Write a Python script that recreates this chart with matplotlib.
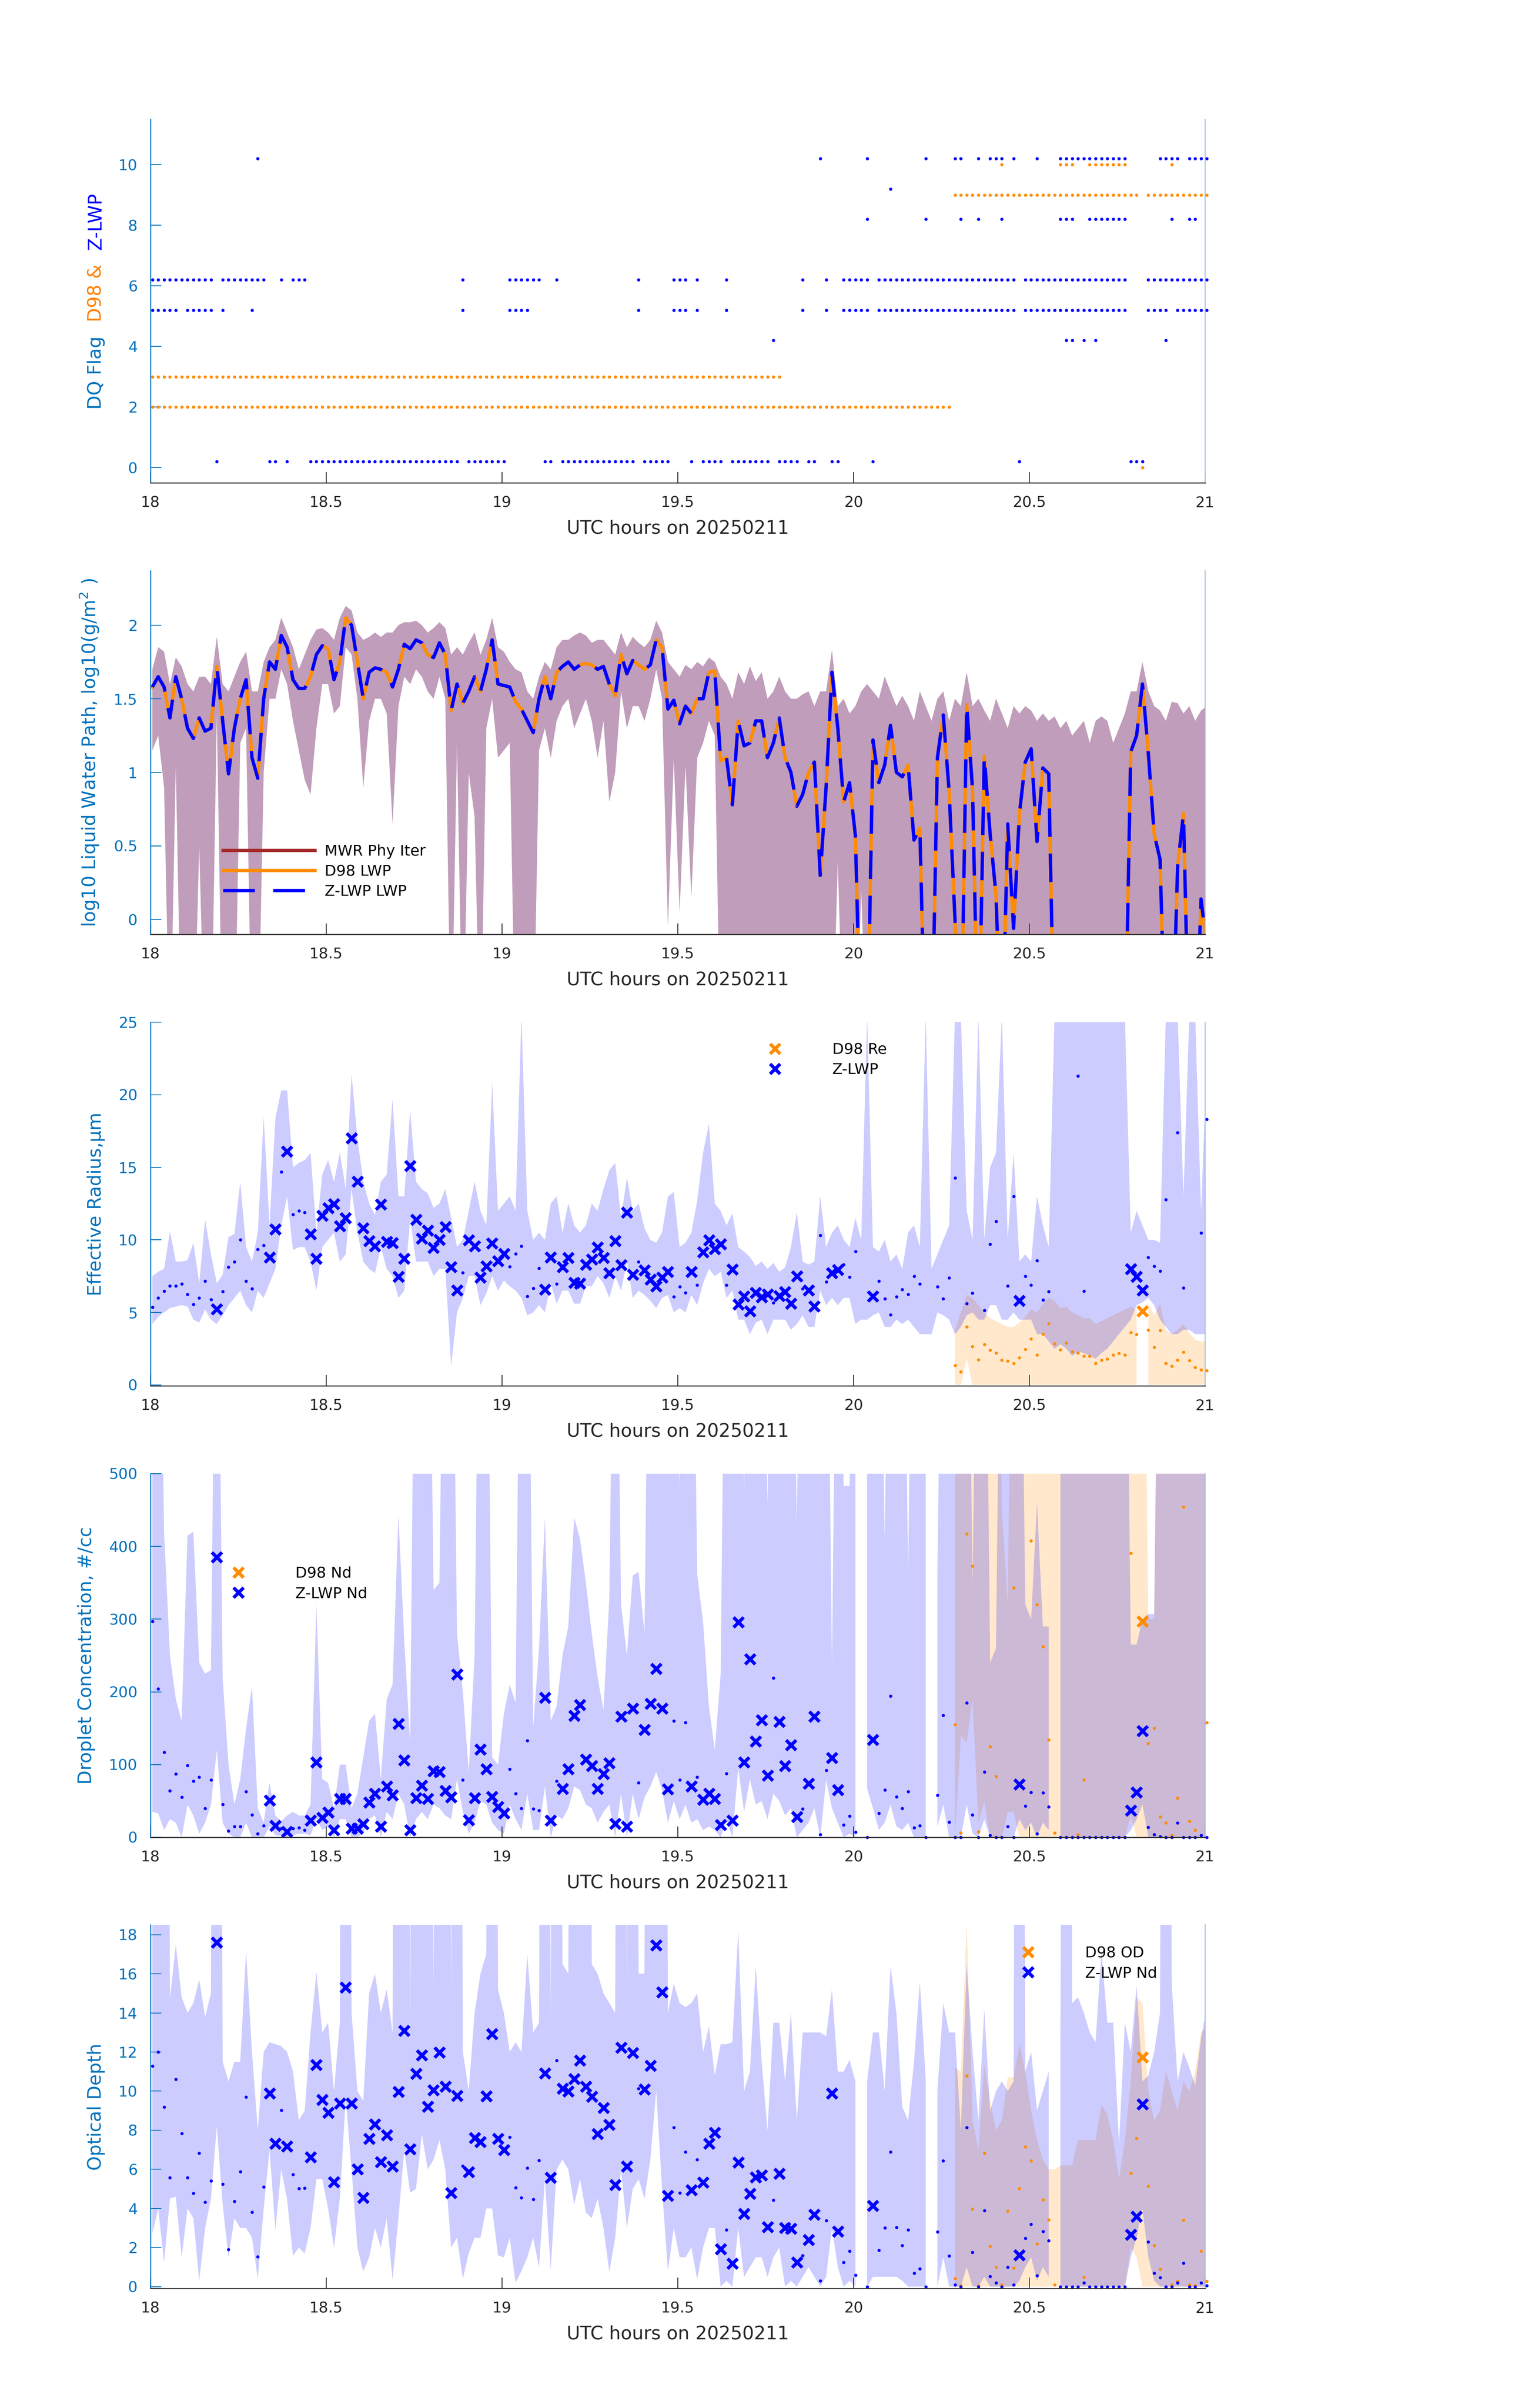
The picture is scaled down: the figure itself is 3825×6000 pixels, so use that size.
import numpy as np
import matplotlib
matplotlib.use("Agg")
import matplotlib.pyplot as plt
from matplotlib.lines import Line2D
from matplotlib.transforms import IdentityTransform

nan = np.nan

# ---------------- time axis: one sample per minute ----------------
minute_index = np.arange(181)
t = 18.0 + (minute_index + 0.33) / 60.0
D98_START = 137                      # D98 retrievals start at this minute
t_d98 = t[D98_START:]

xtick_vals = [18, 18.5, 19, 19.5, 20, 20.5, 21]
xtick_labels = ["18", "18.5", "19", "19.5", "20", "20.5", "21"]

# ---------------- panel 1 : data-quality flags (minute indices) ----------------
d98_flag0 = [169]
d98_flag2 = list(range(0, 137))
d98_flag3 = list(range(0, 108))
d98_flag9 = list(range(137, 169)) + list(range(170, 181))
d98_flag10 = [145, 155, 156, 157] + list(range(160, 167)) + [174]

z_flag0 = ([11, 20, 21, 23] + list(range(27, 53)) + list(range(54, 61)) + [67, 68]
           + list(range(70, 83)) + list(range(84, 89)) + [92] + list(range(94, 98))
           + list(range(99, 106)) + list(range(107, 111)) + [112, 113, 116, 117, 123, 148, 167, 168, 169])
z_flag4 = [106, 156, 157, 159, 161, 173]
z_flag5 = (list(range(0, 5)) + list(range(6, 11)) + [12, 17, 53] + list(range(61, 65))
           + [83, 89, 90, 91, 93, 98, 111, 115] + list(range(118, 123)) + list(range(124, 148))
           + list(range(149, 167)) + list(range(170, 174)) + list(range(175, 181)))
z_flag6 = (list(range(0, 11)) + list(range(12, 20)) + [22, 24, 25, 26, 53] + list(range(61, 67))
           + [69, 83, 89, 90, 91, 93, 98, 111, 115] + list(range(118, 123)) + list(range(124, 148))
           + list(range(149, 167)) + list(range(170, 181)))
z_flag8 = [122, 132, 138, 141, 145, 155, 156, 157] + list(range(160, 167)) + [174, 177, 178]
z_flag9 = [126]
z_flag10 = ([18, 114, 122, 132, 137, 138, 141, 143, 144, 145, 147, 151] + list(range(155, 167))
            + list(range(172, 176)) + list(range(177, 181)))

# ---------------- panel 2 : log10 LWP ----------------
zlwp_lwp_log = [
    1.58, 1.65, 1.58, 1.37, 1.65, 1.50, 1.30, 1.23, 1.37, 1.28,
    1.30, 1.72, 1.35, 0.99, 1.30, 1.50, 1.63, 1.10, 0.96, 1.50,
    1.75, 1.70, 1.93, 1.85, 1.63, 1.57, 1.57, 1.65, 1.80, 1.86,
    1.84, 1.63, 1.75, 2.05, 2.00, 1.75, 1.50, 1.68, 1.71, 1.70,
    1.68, 1.58, 1.70, 1.87, 1.84, 1.90, 1.88, 1.80, 1.78, 1.88,
    1.80, 1.42, 1.60, 1.47, 1.55, 1.65, 1.55, 1.70, 1.90, 1.60,
    1.59, 1.58, 1.48, 1.43, 1.35, 1.27, 1.50, 1.65, 1.50, 1.68,
    1.72, 1.75, 1.70, 1.73, 1.74, 1.73, 1.70, 1.72, 1.60, 1.52,
    1.80, 1.67, 1.76, 1.73, 1.70, 1.73, 1.90, 1.85, 1.43, 1.49,
    1.33, 1.45, 1.40, 1.50, 1.50, 1.68, 1.69, 1.08, 1.10, 0.78,
    1.35, 1.18, 1.20, 1.35, 1.35, 1.10, 1.20, 1.37, 1.10, 1.00,
    0.77, 0.85, 1.00, 1.07, 0.30, 0.90, 1.68, 1.30, 0.80, 0.93,
    0.57, -1.0, -1.0, 1.22, 0.93, 1.05, 1.32, 1.00, 0.97, 1.05,
    0.54, 0.62, -1.0, -1.0, 1.10, 1.39, 0.87, 0.00, -1.0, 1.46,
    0.88, -1.0, 1.11, 0.58, 0.17, -1.0, 0.65, -0.06, 0.72, 1.07,
    1.16, 0.53, 1.03, 0.99, -1.0, nan, nan, nan, nan, nan,
    nan, nan, nan, nan, nan, nan, -1.0, 1.14, 1.25, 1.60,
    1.13, 0.58, 0.41, -1.0, -1.0, 0.36, 0.72, -1.0, -1.0, 0.14,
    -0.2]
d98_lwp_log = list(zlwp_lwp_log)          # D98 LWP coincides with Z-LWP LWP
mwr_lwp_log = [nan] * 181                 # MWR Phy Iter: nothing visible

lwp_hi = [
    1.70, 1.85, 1.82, 1.60, 1.78, 1.72, 1.60, 1.55, 1.65, 1.65,
    1.60, 1.92, 1.60, 1.55, 1.65, 1.75, 1.82, 1.55, 1.55, 1.75,
    1.85, 1.90, 2.05, 1.95, 1.85, 1.70, 1.80, 1.90, 1.97, 1.98,
    1.95, 1.90, 2.05, 2.13, 2.10, 1.95, 1.90, 1.92, 1.95, 1.92,
    1.95, 1.95, 2.00, 2.02, 2.02, 2.03, 2.00, 1.95, 1.98, 2.02,
    1.98, 1.80, 1.85, 1.80, 1.88, 1.95, 1.80, 1.90, 2.05, 1.85,
    1.82, 1.75, 1.70, 1.68, 1.55, 1.50, 1.65, 1.75, 1.70, 1.85,
    1.90, 1.90, 1.93, 1.95, 1.93, 1.88, 1.90, 1.90, 1.85, 1.80,
    1.95, 1.85, 1.92, 1.88, 1.85, 1.90, 2.03, 1.95, 1.75, 1.70,
    1.65, 1.73, 1.70, 1.75, 1.72, 1.78, 1.75, 1.65, 1.60, 1.50,
    1.68, 1.60, 1.72, 1.62, 1.68, 1.50, 1.55, 1.65, 1.55, 1.50,
    1.50, 1.53, 1.55, 1.45, 1.55, 1.55, 1.83, 1.45, 1.50, 1.40,
    1.45, 1.55, 1.60, 1.55, 1.50, 1.65, 1.55, 1.45, 1.52, 1.45,
    1.35, 1.55, 1.45, 1.35, 1.50, 1.55, 1.35, 1.50, 1.45, 1.68,
    1.45, 1.50, 1.42, 1.35, 1.50, 1.40, 1.30, 1.45, 1.40, 1.45,
    1.42, 1.35, 1.40, 1.35, 1.38, 1.30, 1.35, 1.25, 1.30, 1.35,
    1.20, 1.35, 1.38, 1.35, 1.20, 1.30, 1.40, 1.55, 1.55, 1.75,
    1.55, 1.45, 1.42, 1.35, 1.48, 1.47, 1.40, 1.45, 1.35, 1.42,
    1.45]
lwp_lo = [
    1.15, 1.25, 0.90, -1.0, 1.05, -1.0, -1.0, -1.0, 0.50, -1.0,
    -1.0, 1.40, -1.0, -1.0, -1.0, 1.20, 1.30, -1.0, -1.0, 1.00,
    1.50, 1.50, 1.70, 1.60, 1.35, 1.15, 0.95, 0.85, 1.30, 1.60,
    1.60, 1.40, 1.45, 1.85, 1.80, 1.50, 0.90, 1.35, 1.50, 1.50,
    1.40, 0.65, 1.45, 1.65, 1.60, 1.70, 1.65, 1.55, 1.50, 1.65,
    1.50, -1.0, 1.20, -1.0, 1.00, 0.70, -1.0, 1.30, 1.50, 1.10,
    1.15, 1.20, -1.0, -1.0, -1.0, -1.0, 1.15, 1.30, 1.10, 1.35,
    1.45, 1.50, 1.30, 1.40, 1.50, 1.35, 1.10, 1.35, 0.80, 1.00,
    1.55, 1.30, 1.45, 1.45, 1.35, 1.50, 1.70, 1.50, -0.05, 1.10,
    0.05, 1.05, 0.15, 1.10, 1.20, 1.35, 1.25, -1.0, -1.0, -1.0,
    -1.0, -1.0, -1.0, -1.0, -1.0, -1.0, -1.0, -1.0, -1.0, -1.0,
    -1.0, -1.0, -1.0, -1.0, -1.0, -1.0, -1.0, 0.40, -1.0, -1.0,
    -1.0, 0.20, -1.0, -1.0, -1.0, -1.0, -1.0, -1.0, -1.0, -1.0,
    -1.0, -1.0, -1.0, -1.0, -1.0, -1.0, -1.0, -1.0, -1.0, -1.0,
    -1.0, -1.0, -1.0, -1.0, -1.0, -1.0, -1.0, -1.0, -1.0, -1.0,
    -1.0, -1.0, -1.0, -1.0, -1.0, -1.0, -1.0, -1.0, -1.0, -1.0,
    -1.0, -1.0, -1.0, -1.0, -1.0, -1.0, -1.0, -1.0, -1.0, -1.0,
    -1.0, -1.0, -1.0, -1.0, -1.0, -1.0, -1.0, -1.0, -1.0, -1.0,
    -1.0]

# ---------------- panel 3 : effective radius ----------------
zlwp_re = [
    5.37, 6.0, 6.47, 6.82, 6.82, 6.96, 6.24, 5.56, 6.0, 7.17,
    5.9, 5.23, 6.43, 8.14, 8.5, 10.0, 7.17, 6.63, 9.34, 9.63,
    8.8, 10.74, 14.67, 16.1, 11.76, 12.0, 11.88, 10.4, 8.72, 11.67,
    12.2, 12.46, 10.95, 11.5, 17.0, 14.03, 10.8, 9.92, 9.57, 12.44,
    9.86, 9.8, 7.46, 8.7, 15.1, 11.4, 10.1, 10.64, 9.46, 10.0,
    10.9, 8.14, 6.53, 7.75, 9.98, 9.57, 7.4, 8.18, 9.77, 8.53,
    9.05, 8.16, 9.05, 9.57, 6.1, 6.67, 8.04, 6.57, 8.8, 6.96,
    8.14, 8.76, 7.05, 7.0, 8.3, 8.66, 9.48, 8.76, 7.7, 9.92,
    8.27, 11.9, 7.6, 8.5, 7.9, 7.27, 6.8, 7.4, 7.8, 6.08,
    6.76, 6.37, 7.8, 6.88, 9.15, 9.98, 9.38, 9.7, 6.88, 7.96,
    5.56, 6.1, 5.08, 6.37, 6.05, 6.24, 5.66, 6.14, 6.4, 5.6,
    7.5, 6.63, 6.53, 5.43, 10.3, 7.1, 7.7, 7.93, 8.3, 7.44,
    9.2, nan, nan, 6.1, 7.17, 5.95, 4.84, 6.08, 6.57, 6.24,
    7.5, 6.96, nan, nan, 6.76, 5.95, 7.38, 14.28, nan, 5.6,
    6.33, nan, 5.14, 9.7, 11.28, nan, 6.82, 13.0, 5.81, 7.5,
    6.88, 8.57, 5.85, 6.43, nan, nan, nan, nan, 21.3, 6.47,
    nan, nan, nan, nan, nan, nan, nan, 7.98, 7.46, 6.53,
    8.8, 8.18, 7.85, 12.77, nan, 17.4, 6.69, nan, nan, 10.47,
    18.3]
zlwp_re_hi = [
    7.5, 7.8, 8.0, 10.6, 8.5, 8.5, 8.6, 9.8, 7.0, 11.4,
    9.0, 7.0, 7.6, 10.2, 10.4, 14.0, 9.5, 8.5, 10.5, 18.5,
    11.0, 18.4, 20.3, 20.3, 15.0, 15.3, 15.5, 16.0, 10.5, 14.5,
    15.5, 14.0, 16.0, 13.5, 21.4, 17.0, 14.0, 12.5, 11.7, 14.0,
    14.5, 19.7, 13.0, 13.0, 18.9, 14.0, 13.5, 13.2, 12.2, 12.5,
    13.5, 11.5, 9.5, 10.0, 12.0, 14.0, 12.0, 11.0, 20.8, 12.0,
    12.5, 13.0, 12.0, 25.5, 12.0, 10.0, 10.5, 10.0, 12.5, 13.0,
    10.5, 12.5, 11.0, 10.5, 11.0, 12.5, 12.0, 13.5, 14.8, 15.3,
    11.5, 14.3, 12.0, 12.5, 10.8, 10.0, 9.8, 10.5, 13.0, 13.3,
    9.5, 9.8, 10.5, 12.7, 16.0, 18.0, 12.5, 12.0, 11.0, 11.8,
    9.5, 9.2, 8.8, 8.2, 8.5, 8.0, 8.4, 7.8, 8.1, 9.5,
    11.9, 8.5, 8.3, 8.5, 13.0, 9.5, 10.5, 11.0, 10.0, 9.5,
    11.5, 10.0, 25.5, 9.5, 9.2, 10.0, 8.5, 9.0, 8.0, 10.5,
    11.0, 9.5, 25.5, 8.0, 9.0, 10.0, 11.0, 25.5, 25.5, 12.0,
    10.0, 25.5, 10.0, 15.0, 16.0, 25.5, 10.0, 16.0, 8.5, 9.0,
    8.5, 13.0, 11.0, 9.5, 25.5, 25.5, 25.5, 25.5, 25.5, 25.5,
    25.5, 25.5, 25.5, 25.5, 25.5, 25.5, 25.5, 10.5, 12.0, 11.0,
    10.0, 10.0, 9.8, 25.5, 25.5, 25.5, 13.0, 25.5, 25.5, 12.0,
    22.5]
zlwp_re_lo = [
    4.2, 4.7, 5.0, 5.3, 5.4, 5.5, 5.4, 4.5, 4.3, 5.2,
    4.5, 4.2, 4.8, 5.5, 6.0, 6.5, 5.5, 5.0, 6.5, 6.0,
    7.0, 8.0, 11.0, 13.0, 9.3, 9.5, 9.5, 8.5, 6.5, 9.5,
    10.0, 10.5, 8.5, 9.0, 13.5, 10.5, 8.5, 8.0, 7.7, 9.5,
    8.0, 7.5, 6.0, 6.5, 11.5, 8.5, 8.5, 8.5, 7.5, 8.0,
    8.0, 1.3, 5.0, 6.0, 7.5, 7.5, 5.5, 6.3, 7.5, 6.5,
    7.2, 6.8, 6.5, 6.0, 4.8, 5.0, 5.5, 5.0, 7.0, 5.6,
    6.5, 6.5, 5.6, 5.6, 6.8, 6.8, 7.5, 7.0, 6.0, 7.5,
    6.5, 8.5, 6.0, 6.5, 6.2, 5.8, 5.3, 6.0, 6.2, 5.0,
    5.3, 5.0, 6.2, 5.5, 7.0, 8.0, 7.5, 7.8, 6.0, 6.5,
    4.5, 4.5, 3.5, 4.3, 4.5, 3.5, 4.5, 4.5, 4.5, 3.8,
    4.2, 4.8, 4.0, 4.0, 6.5, 5.5, 6.0, 5.5, 6.0, 6.0,
    4.2, 4.5, 4.5, 4.8, 5.0, 4.0, 4.0, 4.5, 4.2, 4.5,
    4.0, 3.5, 3.5, 3.5, 5.0, 4.8, 4.5, 3.5, 4.0, 4.8,
    5.0, 4.5, 4.5, 5.5, 5.5, 4.5, 4.5, 5.0, 4.5, 4.5,
    4.5, 3.5, 3.5, 3.0, 2.5, 2.8, 2.5, 2.0, 2.3, 2.2,
    2.0, 1.8, 2.2, 2.5, 3.0, 3.5, 4.0, 4.5, 5.5, 5.7,
    6.0, 5.5, 4.5, 4.0, 3.5, 3.5, 3.8, 3.8, 3.5, 3.5,
    3.5]
d98_re = [
    1.34, 0.91, 4.0, 2.65, 1.74, 2.8, 2.4, 2.2, 1.7, 1.65,
    1.5, 1.88, 2.46, 3.18, 2.07, 3.5, 4.24, 2.85, 2.42, 2.89,
    2.3, 2.2, 2.0, 2.0, 1.5, 1.72, 1.8, 2.07, 2.17, 2.07,
    3.62, 3.47, 5.08, 3.78, 2.6, 3.76, 1.49, 1.3, 1.72, 2.27,
    1.69, 1.2, 1.05, 1.0]
d98_re_hi = [
    3.8, 5.0, 6.2, 6.0, 5.5, 5.0, 4.6, 4.4, 4.2, 4.0,
    4.0, 4.3, 4.7, 5.2, 5.0, 5.6, 6.0, 5.8, 5.3, 5.4,
    5.0, 4.8, 4.6, 4.6, 4.2, 4.4, 4.6, 4.8, 5.0, 5.2,
    5.4, 5.2, nan, 5.6, 4.8, 5.6, 3.8, 3.5, 3.8, 4.2,
    3.6, 3.1, 3.0, 3.0]
d98_re_lo = [
    0.0, 0.0, 1.85, 0.0, 0.0, 0.0, 0.0, 0.0, 0.0, 0.0,
    0.0, 0.0, 0.0, 0.0, 0.0, 0.0, 0.0, 0.0, 0.0, 0.0,
    0.0, 0.0, 0.0, 0.0, 0.0, 0.0, 0.0, 0.0, 0.0, 0.0,
    0.0, 0.0, nan, 0.0, 0.0, 0.0, 0.0, 0.0, 0.0, 0.0,
    0.0, 0.0, 0.0, 0.0]

# ---------------- panel 4 : droplet concentration ----------------
zlwp_nd = [
    297, 204, 117, 64, 87, 55, 99, 77, 83, 40,
    79, 385, 45, 9, 15, 15, 63, 31, 5, 16,
    51, 16, 12, 8, 12, 13, 10, 23, 103, 27,
    34, 10, 53, 53, 12, 12, 18, 48, 60, 15,
    70, 58, 156, 106, 10, 54, 71, 53, 91, 90,
    64, 55, 224, 79, 24, 54, 121, 94, 56, 42,
    33, 94, 60, 40, 133, 39, 37, 192, 23, 77,
    67, 94, 167, 182, 107, 98, 67, 87, 102, 19,
    166, 15, 177, 75, 148, 184, 232, 177, 66, 160,
    79, 158, 70, 83, 52, 60, 53, 17, 88, 23,
    296, 103, 245, 132, 161, 85, 219, 159, 98, 127,
    28, 39, 74, 166, 4, 92, 109, 65, 17, 29,
    7, nan, 0, 134, 33, 65, 194, 56, 40, 63,
    13, 16, 0, nan, 58, 168, 21, 0, 0, 185,
    31, 0, 90, 3, 0, 0, 15, 0, 73, 43,
    62, 5, 61, 42, nan, 0, 0, 0, 0, 0,
    0, 0, 0, 0, 0, 0, 0, 37, 62, 146,
    14, 4, 1, 0, 0, 20, 0, 0, 0, 3,
    0]
zlwp_nd_hi = [
    999, 999, 420, 250, 190, 160, 415, 420, 240, 225,
    230, 999, 218, 100, 45, 80, 150, 208, 40, 20,
    75, 30, 22, 30, 35, 30, 30, 45, 320, 80,
    75, 40, 100, 100, 40, 60, 110, 160, 170, 80,
    190, 210, 443, 270, 130, 999, 999, 999, 340, 350,
    999, 999, 280, 200, 90, 250, 999, 999, 110, 100,
    170, 210, 185, 999, 999, 150, 260, 440, 160, 180,
    250, 290, 440, 410, 350, 280, 220, 175, 330, 999,
    320, 250, 360, 365, 280, 999, 999, 999, 999, 999,
    483, 999, 999, 361, 296, 180, 120, 224, 999, 999,
    999, 478, 999, 999, 999, 458, 999, 999, 999, 999,
    430, 999, 999, 999, 999, 999, 236, 999, 483, 483,
    999, nan, 999, 999, 999, 411, 999, 999, 999, 364,
    999, 999, 999, nan, 363, 999, 999, 999, 999, 999,
    348, 999, 999, 240, 260, 999, 999, 999, 999, 320,
    300, 460, 290, 290, nan, 999, 999, 999, 999, 999,
    999, 999, 999, 999, 999, 999, 999, 265, 265, 300,
    307, 307, 999, 999, 999, 999, 999, 999, 999, 999,
    999]
zlwp_nd_lo = [
    35, 33, 10, 25, 20, 0, 45, 30, 5, 20,
    45, 120, 20, 5, 0, 0, 20, 0, 0, 0,
    15, 3, 2, 0, 3, 5, 5, 3, 25, 10,
    15, 0, 25, 25, 0, 0, 5, 25, 30, 0,
    35, 25, 60, 45, 0, 25, 35, 25, 45, 40,
    30, 25, 80, 35, 5, 20, 50, 45, 20, 10,
    5, 45, 25, 10, 60, 10, 10, 70, 0, 30,
    25, 40, 70, 65, 45, 40, 20, 35, 45, 0,
    60, 0, 60, 25, 55, 70, 90, 65, 20, 50,
    25, 45, 20, 25, 10, 15, 10, 0, 25, 0,
    95, 35, 80, 45, 50, 25, 60, 50, 30, 40,
    0, 10, 20, 40, 0, 79, 40, 20, 0, 5,
    0, nan, 67, 40, 10, 20, 45, 15, 10, 20,
    0, 0, 0, nan, 15, 45, 0, 0, 0, 45,
    5, 0, 25, 0, 0, 0, 0, 0, 25, 10,
    20, 0, 20, 10, nan, 0, 0, 0, 0, 0,
    0, 0, 0, 0, 0, 0, 0, 10, 25, 45,
    0, 0, 0, 0, 0, 0, 0, 0, 0, 0,
    0]
d98_nd = [
    155, 6, 417, 373, 8, nan, 125, 84, nan, nan,
    343, nan, nan, 408, 320, 262, 134, 6, nan, nan,
    nan, 4, 79, nan, nan, nan, nan, nan, nan, nan,
    391, nan, 297, 129, 150, 28, 20, 3, 54, 454,
    22, 10, nan, 158]
d98_nd_hi = [
    999, 999, 999, 999, 999, 999, 999, 999, 450, 320,
    999, 999, 999, 999, 999, 999, 999, 999, 999, 999,
    999, 999, 999, 999, 999, 999, 999, 999, 999, 999,
    999, 999, 999, 300, 300, 999, 999, 999, 999, 999,
    999, 999, 999, 999]
d98_nd_lo = [
    0, 140, 130, 190, 20, 50, 0, 0, 0, 35,
    35, 0, 0, 0, 0, 0, 0, 0, 0, 0,
    0, 0, 0, 0, 0, 0, 0, 0, 0, 0,
    30, 0, 0, 0, 0, 0, 0, 0, 0, 0,
    0, 0, 0, 0]

# ---------------- panel 5 : optical depth ----------------
zlwp_od = [
    11.28, 12.0, 9.19, 5.57, 10.6, 7.83, 5.57, 4.78, 6.82, 4.33,
    5.42, 17.6, 5.25, 1.9, 4.37, 5.88, 9.7, 3.8, 1.53, 5.1,
    9.88, 7.32, 9.02, 7.18, 5.74, 5.02, 5.05, 6.63, 11.35, 9.55,
    8.9, 5.35, 9.37, 15.3, 9.37, 6.0, 4.55, 7.57, 8.3, 6.37,
    7.75, 6.14, 9.96, 13.08, 7.03, 10.9, 11.84, 9.2, 10.06, 11.99,
    10.24, 4.8, 9.77, 6.17, 5.86, 7.6, 7.4, 9.74, 12.93, 7.57,
    7.0, 7.64, 5.06, 4.55, 6.07, 4.47, 6.46, 10.92, 5.57, 11.57,
    10.13, 9.99, 10.63, 11.57, 10.23, 9.73, 7.81, 9.15, 8.29, 5.21,
    12.22, 6.14, 11.96, 10.13, 10.1, 11.3, 17.47, 15.06, 4.66, 8.14,
    4.8, 6.89, 4.93, 6.49, 5.33, 7.32, 7.87, 1.93, 2.9, 1.18,
    6.35, 3.73, 4.76, 5.6, 5.7, 3.05, 4.42, 5.77, 3.0, 2.96,
    1.25, 1.6, 2.4, 3.68, 0.3, 3.37, 9.88, 2.83, 1.25, 1.81,
    0.59, nan, 0.0, 4.13, 1.85, 3.0, 6.89, 3.03, 2.1, 2.9,
    0.68, 0.92, 0.0, nan, 2.8, 6.43, 1.57, 0.1, 0.0, 8.14,
    1.76, 0.0, 3.9, 0.53, 0.2, 0.0, 1.0, 0.1, 1.61, 2.47,
    3.19, 0.56, 2.82, 2.36, nan, 0.0, 0.0, 0.0, 0.0, 0.2,
    0.0, 0.0, 0.0, 0.0, 0.0, 0.0, 0.0, 2.65, 3.58, 9.34,
    2.29, 0.68, 0.46, 0.0, 0.0, 0.2, 1.2, 0.0, 0.0, 0.2,
    0.05]
zlwp_od_hi = [
    99, 99, 99, 14.7, 17.5, 14.8, 14.0, 14.5, 15.7, 13.8,
    15.0, 99, 11.5, 10.5, 11.5, 11.5, 17.2, 12.0, 8.0, 12.0,
    12.5, 12.4, 12.3, 12.0, 11.0, 8.5, 9.0, 13.0, 16.1, 13.0,
    13.5, 10.0, 13.5, 99, 14.0, 10.0, 9.5, 15.0, 16.0, 14.0,
    15.2, 13.0, 99, 99, 13.0, 99, 99, 99, 15.0, 99,
    99, 15.0, 99, 12.0, 10.0, 14.0, 16.0, 17.0, 99, 15.2,
    14.0, 12.0, 12.5, 12.0, 17.0, 13.0, 13.5, 99, 13.5, 99,
    16.5, 16.0, 99, 99, 99, 16.5, 16.0, 15.0, 14.5, 14.0,
    99, 15.0, 99, 16.0, 16.0, 99, 99, 99, 14.0, 15.5,
    14.5, 14.3, 14.5, 15.0, 12.0, 13.3, 10.8, 12.4, 12.4, 12.5,
    18.2, 10.0, 11.0, 16.4, 11.5, 8.0, 13.5, 13.5, 10.5, 14.0,
    8.5, 13.0, 13.0, 13.0, 13.0, 12.8, 15.2, 11.0, 11.0, 11.6,
    10.5, nan, 10.5, 13.0, 13.0, 10.0, 16.4, 14.0, 9.2, 8.5,
    11.5, 15.6, 10.6, nan, 10.0, 14.5, 13.0, 13.0, 8.0, 16.5,
    12.0, 8.5, 14.2, 9.0, 10.0, 10.5, 10.0, 10.5, 99, 11.0,
    12.0, 9.0, 10.0, 11.0, nan, 13.0, 99, 14.5, 14.8, 14.0,
    13.0, 12.5, 17.2, 13.5, 13.5, 7.3, 13.5, 12.0, 15.4, 10.5,
    10.8, 12.0, 14.0, 99, 15.5, 10.5, 12.0, 11.2, 10.3, 12.7,
    14.3]
zlwp_od_lo = [
    2.7, 4.0, 1.25, 4.5, 4.6, 1.5, 4.0, 3.5, 0.3, 3.0,
    4.5, 8.2, 4.2, 1.5, 3.5, 3.0, 3.0, 2.5, 0.4, 4.0,
    7.0, 2.9, 6.0, 4.45, 1.57, 2.0, 1.7, 3.0, 5.5, 5.5,
    4.0, 2.0, 4.5, 9.6, 6.0, 2.0, 0.78, 1.5, 3.0, 2.0,
    3.5, 0.35, 3.5, 7.0, 4.8, 5.0, 7.8, 6.0, 6.5, 7.5,
    6.0, 2.0, 2.5, 0.4, 1.7, 2.5, 2.5, 4.0, 4.0, 1.6,
    1.5, 2.5, 0.2, 0.8, 1.5, 2.5, 1.0, 5.5, 0.85, 6.0,
    6.5, 6.0, 4.2, 5.5, 3.8, 3.5, 4.5, 3.0, 0.75, 2.5,
    6.0, 3.0, 5.0, 5.5, 4.5, 6.5, 10.0, 5.0, 0.8, 3.0,
    1.5, 1.5, 2.0, 0.38, 2.0, 3.0, 3.0, 0.0, 0.3, 0.0,
    3.0, 0.5, 1.0, 1.5, 1.5, 0.5, 1.5, 2.0, 0.0, 0.3,
    0.0, 0.5, 1.0, 0.5, 0.0, 0.5, 3.0, 1.0, 0.0, 0.3,
    0.0, nan, 0.0, 0.5, 0.5, 0.5, 0.5, 0.5, 0.3, 0.0,
    0.0, 0.0, 0.0, nan, 0.0, 1.5, 0.0, 0.0, 0.0, 1.0,
    0.0, 0.0, 0.5, 0.0, 0.0, 0.0, 0.0, 0.0, 0.3, 1.0,
    1.5, 0.3, 1.0, 0.5, nan, 0.0, 0.0, 0.0, 0.0, 0.0,
    0.0, 0.0, 0.0, 0.0, 0.0, 0.0, 0.0, 1.5, 2.5, 4.0,
    1.5, 0.3, 0.0, 0.0, 0.0, 0.0, 0.0, 0.0, 0.0, 0.0,
    0.0]
d98_od = [
    0.42, 0.05, 10.78, 3.98, 0.05, 6.82, 2.07, 0.99, 0.1, 3.87,
    0.96, 5.02, 7.15, 6.43, 2.19, 4.45, 3.41, 0.1, nan, nan,
    nan, nan, 0.49, nan, nan, nan, nan, nan, nan, nan,
    5.81, 7.58, 11.74, 5.14, 2.1, 0.89, 0.0, 0.1, 0.27, 3.4,
    0.1, 0.05, 1.81, 0.27]
d98_od_hi = [
    11.2, 11.0, 18.6, 8.5, 7.0, 11.3, 9.5, 8.0, 8.5, 10.7,
    10.7, 12.4, 11.0, 9.0, 7.5, 6.5, 6.0, 6.0, 6.2, 6.2,
    6.2, 7.5, 7.5, 7.5, 7.5, 9.3, 8.8, 7.5, 5.5, 7.5,
    10.5, 14.8, 14.5, 10.0, 8.5, 9.0, 11.0, 10.0, 9.0, 10.5,
    10.0, 11.0, 13.0, 13.3]
d98_od_lo = [
    0.0, 0.0, 0.0, 0.0, 0.0, 0.0, 0.0, 0.0, 0.0, 0.0,
    0.0, 0.0, 0.0, 0.0, 0.0, 0.0, 0.0, 0.0, 0.0, 0.0,
    0.0, 0.0, 0.0, 0.0, 0.0, 0.0, 0.0, 0.0, 0.0, 0.0,
    2.0, 1.5, 0.0, 0.0, 0.0, 0.0, 0.0, 0.0, 0.0, 0.0,
    0.0, 0.0, 0.0, 0.0]

for name in ["zlwp_lwp_log", "lwp_hi", "lwp_lo", "zlwp_re", "zlwp_re_hi", "zlwp_re_lo",
             "zlwp_nd", "zlwp_nd_hi", "zlwp_nd_lo", "zlwp_od", "zlwp_od_hi", "zlwp_od_lo"]:
    assert len(globals()[name]) == 181, (name, len(globals()[name]))
for name in ["d98_re", "d98_re_hi", "d98_re_lo", "d98_nd", "d98_nd_hi", "d98_nd_lo",
             "d98_od", "d98_od_hi", "d98_od_lo"]:
    assert len(globals()[name]) == 44, (name, len(globals()[name]))

# ---------------- styling ----------------
MBLUE = (0.0, 0.447, 0.741)
ORANGE = (1.0, 0.549, 0.0)
LABEL_ORANGE = (1.0, 0.5, 0.0)
BLUE = (0.0, 0.0, 1.0)
BROWN = (0.647, 0.165, 0.165)
DARK = (0.15, 0.15, 0.15)
RSPINE = (0.55, 0.72, 0.88)
plt.rcParams["font.family"] = ["DejaVu Sans"]

fig = plt.figure(figsize=(12.75, 20), dpi=300)
LEFT, WIDTH, HEIGHT = 0.098, 0.687, 0.151
bottoms = [0.7995, 0.612, 0.4245, 0.237, 0.0496]
axes = [fig.add_axes([LEFT, b, WIDTH, HEIGHT]) for b in bottoms]


def style(ax, ylim, yticks, yticklabels, ylabel=None):
    ax.set_xlim(18, 21)
    ax.set_ylim(*ylim)
    ax.set_xticks(xtick_vals)
    ax.set_xticklabels(xtick_labels)
    ax.set_yticks(yticks)
    ax.set_yticklabels(yticklabels)
    ax.tick_params(axis="x", direction="in", length=6.5, width=0.5, color=DARK,
                   labelcolor=DARK, labelsize=9, pad=7.8, top=False)
    ax.tick_params(axis="y", direction="in", length=6.5, width=0.5, color=MBLUE,
                   labelcolor=MBLUE, labelsize=9, pad=7.7, right=False)
    ax.spines["top"].set_visible(False)
    ax.spines["left"].set_color(MBLUE)
    ax.spines["left"].set_linewidth(0.6)
    ax.spines["bottom"].set_color(DARK)
    ax.spines["bottom"].set_linewidth(0.6)
    ax.spines["right"].set_color(RSPINE)
    ax.spines["right"].set_linewidth(0.5)
    ax.set_xlabel("UTC hours on 20250211", fontsize=11, color=DARK, labelpad=5.5)
    if ylabel:
        ax.set_ylabel(ylabel, fontsize=11, color=MBLUE, labelpad=7.9)


DOT = dict(ls="none", marker="o", ms=1.9, mew=0, clip_on=False)
XM = dict(ls="none", marker="x", ms=6, mew=2.0, clip_on=False)
LEG = dict(frameon=False, fontsize=9, borderpad=0, borderaxespad=0,
           labelspacing=0.38, loc="center left")

t_arr = np.asarray(t)
zx = np.array(z_flag0)
dx = np.array(d98_flag0) - D98_START

# ---- panel 1 ----
ax = axes[0]
for val, idx in [(10, d98_flag10), (9, d98_flag9), (3, d98_flag3), (2, d98_flag2), (0, d98_flag0)]:
    ax.plot(t_arr[idx], np.full(len(idx), float(val)), color=ORANGE, **DOT)
for val, idx in [(10, z_flag10), (9, z_flag9), (8, z_flag8), (6, z_flag6), (5, z_flag5),
                 (4, z_flag4), (0, z_flag0)]:
    ax.plot(t_arr[idx], np.full(len(idx), val + 0.2), color=BLUE, **DOT)
style(ax, (-0.5, 11.5), [0, 2, 4, 6, 8, 10], ["0", "2", "4", "6", "8", "10"])

# ---- panel 2 ----
ax = axes[1]
for c in (BROWN, ORANGE, BLUE):
    ax.fill_between(t_arr, lwp_lo, lwp_hi, color=c, alpha=0.2, edgecolor="none", linewidth=0)
ax.plot(t_arr, mwr_lwp_log, color=BROWN, lw=2)
ax.plot(t_arr, d98_lwp_log, color=ORANGE, lw=2)
ax.plot(t_arr, zlwp_lwp_log, color=BLUE, lw=2, ls=(0, (8.5, 5)))
style(ax, (-0.1, 2.37), [0, 0.5, 1, 1.5, 2], ["0", "0.5", "1", "1.5", "2"],
      "log10 Liquid Water Path, log10(g/m$^2$ )")
h = [Line2D([], [], color=BROWN, lw=2), Line2D([], [], color=ORANGE, lw=2),
     Line2D([], [], color=BLUE, lw=2, ls=(0, (9.5, 5.5)))]
ax.legend(h, ["MWR Phy Iter", "D98 LWP", "Z-LWP LWP"], bbox_to_anchor=(0.069, 0.172),
          handlelength=6.1, handletextpad=0.64, **LEG)


def micro_panel(ax, zv, zlo, zhi, dv, dlo, dhi):
    ax.fill_between(t_d98, dlo, dhi, color=ORANGE, alpha=0.2, edgecolor="none", linewidth=0)
    dv = np.asarray(dv, dtype=float)
    ax.plot(t_d98, dv, color=ORANGE, **DOT)
    ax.plot(t_d98[dx], dv[dx], color=ORANGE, **XM)
    ax.fill_between(t_arr, zlo, zhi, color=BLUE, alpha=0.2, edgecolor="none", linewidth=0)
    zv = np.asarray(zv, dtype=float)
    ax.plot(t_arr, zv, color=BLUE, **DOT)
    ax.plot(t_arr[zx], zv[zx], color=BLUE, **XM)


def xleg(ax, labels, anchor):
    kw = {k: v for k, v in XM.items() if k != "clip_on"}
    h = [Line2D([], [], color=ORANGE, **kw), Line2D([], [], color=BLUE, **kw)]
    ax.legend(h, labels, bbox_to_anchor=anchor, handlelength=2.0, handletextpad=2.8, **LEG)


# ---- panel 3 ----
ax = axes[2]
micro_panel(ax, zlwp_re, zlwp_re_lo, zlwp_re_hi, d98_re, d98_re_lo, d98_re_hi)
style(ax, (-0.06, 25), [0, 5, 10, 15, 20, 25], ["0", "5", "10", "15", "20", "25"],
      "Effective Radius,\u03bcm")
xleg(ax, ["D98 Re", "Z-LWP"], (0.578, 0.896))

# ---- panel 4 ----
ax = axes[3]
micro_panel(ax, zlwp_nd, zlwp_nd_lo, zlwp_nd_hi, d98_nd, d98_nd_lo, d98_nd_hi)
style(ax, (0, 500), [0, 100, 200, 300, 400, 500], ["0", "100", "200", "300", "400", "500"],
      "Droplet Concentration, #/cc")
xleg(ax, ["D98 Nd", "Z-LWP Nd"], (0.069, 0.6975))

# ---- panel 5 ----
ax = axes[4]
micro_panel(ax, zlwp_od, zlwp_od_lo, zlwp_od_hi, d98_od, d98_od_lo, d98_od_hi)
od_ticks = [0, 2, 4, 6, 8, 10, 12, 14, 16, 18]
style(ax, (-0.1, 18.5), od_ticks, [str(v) for v in od_ticks], "Optical Depth")
xleg(ax, ["D98 OD", "Z-LWP Nd"], (0.818, 0.894))

# ---- multi-coloured y label of panel 1 ----
fig.canvas.draw()
rend = fig.canvas.get_renderer()
ax1 = axes[0]
tick_boxes = [lb.get_window_extent(rend) for lb in ax1.get_yticklabels() if lb.get_text()]
x_right = min(b.x0 for b in tick_boxes) - 7.9 * fig.dpi / 72.0
parts = [("DQ Flag", MBLUE), ("D98 &", LABEL_ORANGE), ("Z-LWP", BLUE)]
gap = 36.0
texts = []
for s, c in parts:
    tx = fig.text(0, 0, s, rotation=90, rotation_mode="anchor", ha="left", va="bottom",
                  fontsize=11, color=c, transform=IdentityTransform())
    texts.append(tx)
lengths = [tx.get_window_extent(rend).height for tx in texts]
total = sum(lengths) + gap * (len(parts) - 1)
bb = ax1.get_window_extent(rend)
y0 = (bb.y0 + bb.y1) / 2.0 - total / 2.0
for tx, ln in zip(texts, lengths):
    tx.set_position((x_right, y0))
    y0 += ln + gap

fig.savefig("out.png", dpi=300)
